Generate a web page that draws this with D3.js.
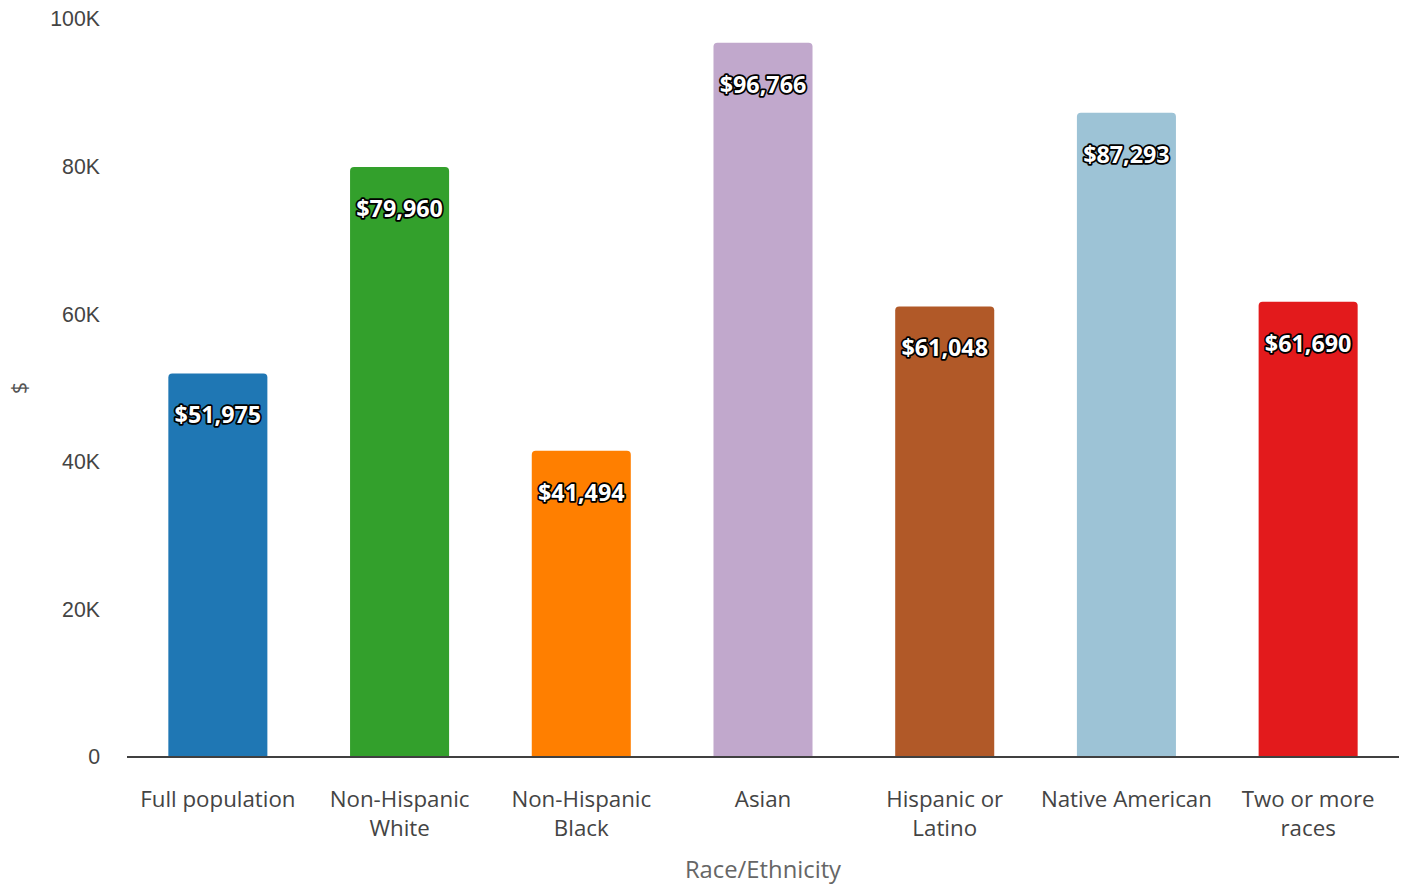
<!DOCTYPE html>
<html>
<head>
<meta charset="utf-8">
<script src="https://cdn.jsdelivr.net/npm/d3@7"></script>
<style>
  html, body { margin: 0; padding: 0; background: #fff; }
  svg { display: block; font-family: "Segoe UI", "Open Sans", "Noto Sans", sans-serif; }
</style>
</head>
<body>
<svg id="chart" width="1411" height="884"></svg>
<script>
// Median household income by race/ethnicity
const categories = [
  ["Full population"],
  ["Non-Hispanic", "White"],
  ["Non-Hispanic", "Black"],
  ["Asian"],
  ["Hispanic or", "Latino"],
  ["Native American"],
  ["Two or more", "races"]
];
const values = [51975, 79960, 41494, 96766, 61048, 87293, 61690];
const colors = ["#1f77b4", "#33a02c", "#ff7f00", "#c1a8cc", "#b15928", "#9dc3d6", "#e31a1c"];
const yTicks = [0, 20000, 40000, 60000, 80000, 100000];
const yTickLabels = ["0", "20K", "40K", "60K", "80K", "100K"];

const svg = d3.select("#chart");
const margin = { left: 127, right: 12, top: 19, bottom: 127 };
const W = 1411, H = 884;

const x = d3.scaleBand()
  .domain(d3.range(values.length))
  .range([margin.left, W - margin.right])
  .paddingInner(0.455)
  .paddingOuter(0.2275);

const y = d3.scaleLinear()
  .domain([0, 100000])
  .range([H - margin.bottom, margin.top]);

// bars with rounded top corners
const r = 4;
svg.append("g").selectAll("path")
  .data(values)
  .join("path")
  .attr("fill", (d, i) => colors[i])
  .attr("d", (d, i) => {
    const x0 = x(i), x1 = x(i) + x.bandwidth();
    const yt = y(d), yb = y(0);
    return `M${x0},${yb}V${yt + r}Q${x0},${yt} ${x0 + r},${yt}H${x1 - r}Q${x1},${yt} ${x1},${yt + r}V${yb}Z`;
  });

// y axis tick labels
const yAxis = d3.axisLeft(y)
  .tickValues(yTicks)
  .tickFormat((d, i) => yTickLabels[i])
  .tickSize(0)
  .tickPadding(0);
const yg = svg.append("g")
  .attr("transform", `translate(${100},0)`)
  .call(yAxis);
yg.select(".domain").remove();
yg.selectAll("text")
  .attr("fill", "#444")
  .style("font-size", "21.3px");

// x baseline
svg.append("line")
  .attr("x1", margin.left).attr("x2", W - margin.right)
  .attr("y1", y(0)).attr("y2", y(0))
  .attr("stroke", "#404040").attr("stroke-width", 2);

// category labels
const xg = svg.append("g").selectAll("text")
  .data(categories)
  .join("text")
  .attr("x", (d, i) => x(i) + x.bandwidth() / 2)
  .attr("y", y(0) + 50)
  .attr("text-anchor", "middle")
  .attr("fill", "#444")
  .style("font-size", "22.3px");
xg.selectAll("tspan")
  .data(d => d)
  .join("tspan")
  .attr("x", function () { return this.parentNode.getAttribute("x"); })
  .attr("dy", (d, j) => j === 0 ? 0 : 29)
  .text(d => d);

// value labels
const fmt = d3.format("$,");
svg.append("g").selectAll("text")
  .data(values)
  .join("text")
  .attr("x", (d, i) => x(i) + x.bandwidth() / 2)
  .attr("y", d => y(d) + 50)
  .attr("text-anchor", "middle")
  .attr("fill", "#fff")
  .attr("stroke", "#000")
  .attr("stroke-width", 3.5)
  .attr("paint-order", "stroke")
  .attr("stroke-linejoin", "round")
  .style("font-size", "23.3px")
  .style("font-weight", "bold")
  .text(d => fmt(d));

// axis titles
svg.append("text")
  .attr("transform", `translate(27,${(y(0) + y(100000)) / 2}) rotate(-90)`)
  .attr("text-anchor", "middle")
  .attr("fill", "#555")
  .style("font-size", "21px")
  .text("$");

svg.append("text")
  .attr("x", (margin.left + W - margin.right) / 2)
  .attr("y", 878)
  .attr("text-anchor", "middle")
  .attr("fill", "#666")
  .style("font-size", "23.8px")
  .text("Race/Ethnicity");
</script>
</body>
</html>
